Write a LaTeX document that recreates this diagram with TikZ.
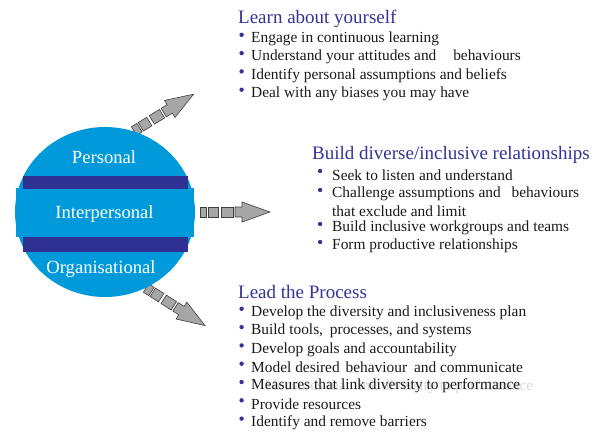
\documentclass[tikz,border=0pt]{standalone}
\usepackage{fontspec}
\setmainfont{Liberation Serif}
\usetikzlibrary{positioning}

\definecolor{globeblue}{HTML}{0099DA}
\definecolor{bandblue}{HTML}{2E3192}
\definecolor{headblue}{HTML}{333399}
\definecolor{arrowgray}{HTML}{A6A6A6}

\tikzset{
  ring/.style={text=white, font=\fontsize{18.6}{20}\selectfont},
  heading/.style={anchor=west, inner sep=0pt, text=headblue,
    font=\fontsize{19}{21}\selectfont},
  item/.style={anchor=west, inner sep=0pt, text=black!90,
    font=\fontsize{15.4}{17}\selectfont},
  bulletdot/.style={circle, fill=headblue, inner sep=0pt, minimum size=4.4pt},
  arrowpart/.style={fill=arrowgray, draw=black!75, line width=0.6pt},
  % three growing blocks and a block arrow
  pics/blockarrow/.style={code={
    \filldraw[arrowpart] (0,-5) rectangle (6.5,5);
    \filldraw[arrowpart] (8,-5) rectangle (18,5);
    \filldraw[arrowpart] (21,-5) rectangle (33,5);
    \filldraw[arrowpart] (35,-5) -- (42,-5) -- (42,-10) -- (70,0)
      -- (42,10) -- (42,5) -- (35,5) -- cycle;
  }}
}

\begin{document}
\begin{tikzpicture}[x=1pt,y=-1pt]
  \useasboundingbox (0,0) rectangle (597,432);

  % arrows out of the globe
  \pic[rotate=31.7] at (134,131) {blockarrow};
  \pic at (200,212) {blockarrow};
  \pic[rotate=-32.5] at (146,288) {blockarrow};

  % globe with its two bands
  \fill[globeblue] (105,212) ellipse [x radius=90, y radius=85];
  \fill[globeblue] (16,188) rectangle (194,237);
  \fill[bandblue] (23,176) rectangle (188,188.5);
  \fill[bandblue] (23,236.5) rectangle (188,252);
  \node[ring] (personal) at (104,157) {Personal};
  \node[ring] (inter) at (104.5,214) {Interpersonal};
  \node[ring] (org) at (101,269) {Organisational};

  % personal
  \node[heading] (learn) at (238,19) {Learn about yourself};
  \foreach \txt [count=\i] in {Engage in continuous learning,
      Understand your attitudes and\hspace{13pt} behaviours,
      Identify personal assumptions and beliefs,
      Deal with any biases you may have}{
    \node[item] (learn\i) at (251,18.3*\i+20.5) {\txt};
    \node[bulletdot, left=7pt of learn\i.west, yshift=4pt] {};
  }

  % interpersonal
  \node[heading] (build) at (312,155) {Build diverse/inclusive relationships};
  \foreach \y/\txt [count=\i] in {175/Seek to listen and understand,
      194/Challenge assumptions and\hspace{7pt} behaviours,
      228/Build inclusive workgroups and teams,
      246/Form productive relationships}{
    \node[item] (build\i) at (332,\y) {\txt};
    \node[bulletdot, left=9.5pt of build\i.west, yshift=4pt] {};
  }
  \node[item] (buildmore) at (332,211.5) {that exclude and limit};

  % organisational
  \node[heading] (lead) at (238,292) {Lead the Process};
  \node[item, text=black!15] (ghost) at (264,387) {Measures that link diversity to performance};
  \foreach \txt [count=\i] in {Develop the diversity and inclusiveness plan,
      {Build tools,\hspace{3pt} processes, and systems},
      Develop goals and accountability,
      Model desired\hspace{2pt} behaviour\hspace{3pt} and communicate,
      Measures that link diversity to performance,
      Provide resources,
      Identify and remove barriers}{
    \node[item] (lead\i) at (251,18.3*\i+294.5) {\txt};
    \node[bulletdot, left=7pt of lead\i.west, yshift=4pt] {};
  }
\end{tikzpicture}
\end{document}
